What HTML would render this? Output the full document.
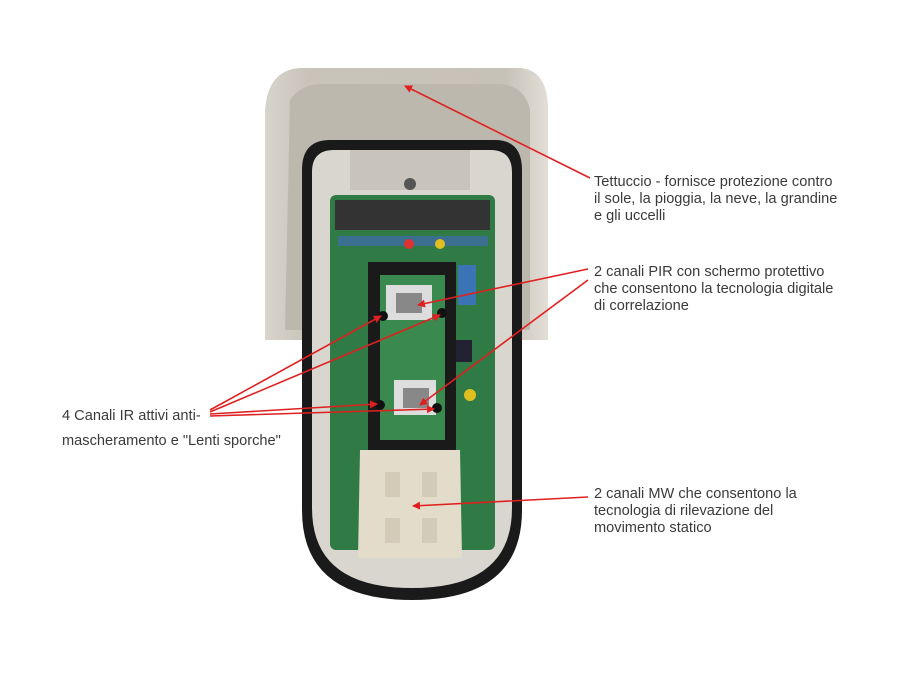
<!DOCTYPE html>
<html><head><meta charset="utf-8"><style>
body{margin:0;width:900px;height:675px;background:#fff;position:relative;overflow:hidden;font-family:"Liberation Sans",sans-serif;}
.t{position:absolute;font-size:14.6px;line-height:17px;color:#3a3a3a;letter-spacing:0px;white-space:nowrap;transform-origin:0 0}
</style></head><body>
<svg width="900" height="675" style="position:absolute;left:0;top:0">
<defs>
<linearGradient id="hood" x1="0" x2="1"><stop offset="0" stop-color="#d8d4cc"/><stop offset="0.15" stop-color="#c9c4ba"/><stop offset="0.85" stop-color="#c7c2b8"/><stop offset="1" stop-color="#e2ded7"/></linearGradient>
<marker id="a" markerWidth="8" markerHeight="8" refX="7" refY="4" orient="auto" markerUnits="userSpaceOnUse"><path d="M0,0 L8,4 L0,8 z" fill="#e02020"/></marker>
</defs>
<path d="M300,68 L520,68 Q548,70 548,110 L548,340 L300,340 L265,340 L265,110 Q268,70 300,68 Z" fill="url(#hood)"/>
<path d="M290,100 Q300,85 320,84 L500,84 Q525,86 530,110 L530,330 L285,330 Z" fill="#bdb8ad"/>
<path d="M330,140 L495,140 Q522,140 522,170 L522,510 Q522,600 412,600 Q302,600 302,510 L302,170 Q302,140 330,140 Z" fill="#1a1a1a"/>
<path d="M334,150 L490,150 Q512,150 512,172 L512,508 Q512,588 412,588 Q312,588 312,508 L312,172 Q312,150 334,150 Z" fill="#d9d6d0"/>
<rect x="350" y="150" width="120" height="40" fill="#c8c4bc"/>
<circle cx="410" cy="184" r="6" fill="#555"/>
<rect x="330" y="195" width="165" height="355" rx="6" fill="#2f7a45"/>
<rect x="335" y="200" width="155" height="30" fill="#333"/>
<rect x="338" y="236" width="150" height="10" fill="#3a6f8f"/>
<circle cx="409" cy="244" r="5" fill="#d33"/><circle cx="440" cy="244" r="5" fill="#e0c020"/>
<rect x="458" y="265" width="18" height="40" fill="#3b74b5"/>
<rect x="450" y="340" width="22" height="22" fill="#223"/>
<circle cx="470" cy="395" r="6" fill="#e0c020"/>
<rect x="368" y="262" width="88" height="195" fill="#1a1a1a"/>
<rect x="380" y="275" width="65" height="165" fill="#3a8a50"/>
<rect x="386" y="285" width="46" height="35" fill="#ddd"/><rect x="396" y="293" width="26" height="20" fill="#888"/>
<rect x="394" y="380" width="42" height="35" fill="#ddd"/><rect x="403" y="388" width="26" height="20" fill="#888"/>
<circle cx="383" cy="316" r="5" fill="#111"/><circle cx="442" cy="313" r="5" fill="#111"/>
<circle cx="380" cy="405" r="5" fill="#111"/><circle cx="437" cy="408" r="5" fill="#111"/>
<path d="M360,450 L460,450 L462,558 L358,558 Z" fill="#e3dccb"/>
<rect x="385" y="472" width="15" height="25" fill="#d3cbb8"/><rect x="422" y="472" width="15" height="25" fill="#d3cbb8"/>
<rect x="385" y="518" width="15" height="25" fill="#d3cbb8"/><rect x="422" y="518" width="15" height="25" fill="#d3cbb8"/>
<g stroke="#e02020" stroke-width="1.6" fill="none" marker-end="url(#a)">
<line x1="590" y1="178" x2="405" y2="86"/>
<line x1="588" y1="269" x2="418" y2="305"/>
<line x1="588" y1="280" x2="420" y2="405"/>
<line x1="210" y1="410" x2="381" y2="316"/>
<line x1="210" y1="412" x2="440" y2="315"/>
<line x1="210" y1="414" x2="377" y2="404"/>
<line x1="210" y1="416" x2="434" y2="409"/>
<line x1="588" y1="497" x2="413" y2="506"/>
</g>
</svg>
<div class="t" style="left:594px;top:174px">Tettuccio - fornisce protezione contro<br>il sole, la pioggia, la neve, la grandine<br>e gli uccelli</div>
<div class="t" style="left:594px;top:264px">2 canali PIR con schermo protettivo<br>che consentono la tecnologia digitale<br>di correlazione</div>
<div class="t" style="left:594px;top:486px">2 canali MW che consentono la<br>tecnologia di rilevazione del<br>movimento statico</div>
<div class="t" style="left:62px;top:404px;line-height:25px">4 Canali IR attivi anti-<br>mascheramento e "Lenti sporche"</div>
</body></html>
